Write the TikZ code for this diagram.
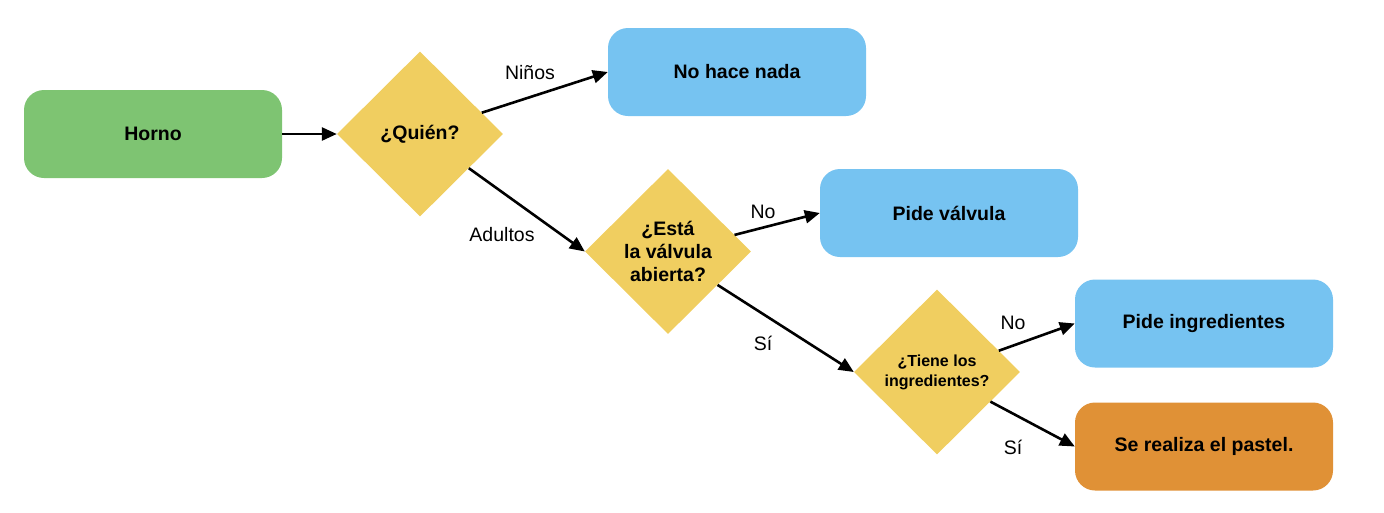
\documentclass[tikz,border=0pt]{standalone}
\usepackage{fontspec}
\setmainfont{Liberation Sans}
\usetikzlibrary{shapes.geometric,arrows.meta}
\definecolor{cgreen}{RGB}{126,196,114}
\definecolor{cyellow}{RGB}{240,206,96}
\definecolor{cblue}{RGB}{118,195,241}
\definecolor{corange}{RGB}{224,145,54}
\tikzset{
  box/.style={rectangle, rounded corners=20pt, minimum width=258pt, minimum height=88pt, inner sep=0pt, font=\fontsize{19.5}{23}\selectfont\bfseries},
  decision/.style={diamond, fill=cyellow, minimum width=166pt, minimum height=165pt, inner sep=0pt, align=center, font=\fontsize{19.5}{23}\selectfont\bfseries},
  lbl/.style={font=\fontsize{19.5}{23}\selectfont},
  arr/.style={line width=2.6pt, -{Triangle[length=15pt,width=13pt]}}
}
\begin{document}
\begin{tikzpicture}[x=1pt,y=-1pt]
\useasboundingbox (0,0) rectangle (1384,512);
\node[box, fill=cgreen] (horno) at (153,134) {Horno};
\node[decision] (d1) at (420,134) {¿Quién?};
\node[box, fill=cblue] (nada) at (737,72) {No hace nada};
\node[decision] (d2) at (668,251.5) {¿Está\\la válvula\\abierta?};
\node[box, fill=cblue] (valv) at (949,213) {Pide válvula};
\node[decision, font=\fontsize{16}{20}\selectfont\bfseries] (d3) at (937,372) {¿Tiene los\\ingredientes?};
\node[box, fill=cblue] (ingr) at (1204,323.5) {Pide ingredientes};
\node[box, fill=corange] (pastel) at (1204,446.5) {Se realiza el pastel.};

\draw[arr] (horno.east) -- (d1.west);
\draw[arr] (d1.19) -- (nada.west);
\draw[arr] (d1.-35) -- (d2.west);
\draw[arr] (d2.14) -- (valv.west);
\draw[arr] (d2.-34) -- (d3.west);
\draw[arr] (d3.19) -- (ingr.west);
\draw[arr] (d3.-29) -- (pastel.west);

\node[lbl] (l1) at (530,73) {Niños};
\node[lbl] (l2) at (502,235) {Adultos};
\node[lbl] (l3) at (763,212) {No};
\node[lbl] (l4) at (763,343) {Sí};
\node[lbl] (l5) at (1013,323) {No};
\node[lbl] (l6) at (1013,447) {Sí};
\end{tikzpicture}
\end{document}
